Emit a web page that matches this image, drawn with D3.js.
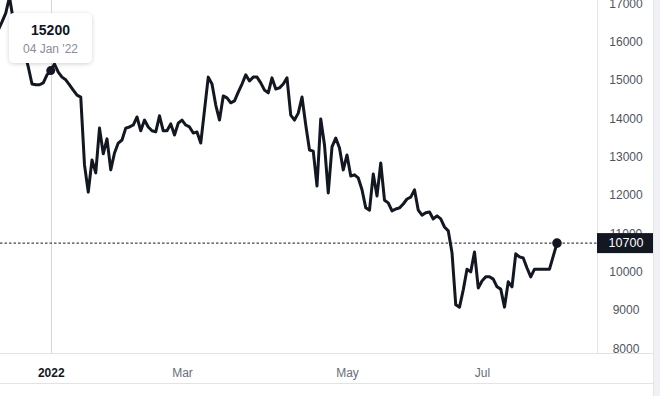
<!DOCTYPE html>
<html>
<head>
<meta charset="utf-8">
<script src="https://cdn.jsdelivr.net/npm/d3@7"></script>
<style>
  html, body { margin: 0; padding: 0; background: #ffffff; }
  svg { display: block; font-family: "Liberation Sans", Arial, sans-serif; }
</style>
</head>
<body>
<svg id="chart" width="660" height="396"></svg>
<script>
// ---- data (one value per trading bar) ----
const prices = [
  16260, 16470, 16700, 17120, 16520, 16050, 16180, 15690, 15300, 14850,
  14830, 14830, 14880, 15090, 15200, 15370, 15160, 15030, 14960, 14830,
  14690, 14560, 14510, 12740, 12030, 12870, 12530, 13700, 13030, 13420,
  12610, 13050, 13310, 13390, 13700, 13730, 13780, 13990, 13630, 13910,
  13730, 13630, 13600, 14020, 13630, 13630, 13810, 13520, 13830, 13910,
  13780, 13730, 13570, 13600, 13310, 14170, 15030, 14850, 14300, 13910,
  14540, 14490, 14360, 14410, 14640, 14850, 15090, 14930, 15030, 15030,
  14880, 14690, 14620, 15010, 14720, 14750, 14850, 15010, 14040, 13910,
  14090, 14510, 13780, 13130, 13100, 12190, 13940, 13260, 12010, 13210,
  13440, 13180, 12610, 13000, 12450, 12480, 12400, 12090, 11620, 11560,
  12500, 11930, 12790, 11820, 11750, 11540, 11590, 11620, 11720, 11850,
  11900, 12090, 11560, 11430, 11490, 11510, 11330, 11410, 11330, 11120,
  11020, 10450, 9090, 9030, 9480, 10020, 9950, 10470, 9530, 9710,
  9820, 9820, 9760, 9560, 9500, 9030, 9690, 9560, 10420, 10340,
  10310, 10050, 9820, 10020, 10020, 10020, 10020, 10020, 10360, 10700
];
const xTickBars = [14, 49, 93, 129];
const xTickLabels = ["2022", "Mar", "May", "Jul"];
const yTicks = [8000, 9000, 10000, 11000, 12000, 13000, 14000, 15000, 16000, 17000];
const hoverBar = 14;
const hoverDate = "04 Jan '22";

// ---- layout ----
const W = 660, H = 396;
const plotRight = 597, plotBottom = 353, axisBottomLine = 383, stripX = 653;
const dark = "#131722";

const svg = d3.select("#chart");

const x = d3.scaleLinear().domain([0, prices.length - 1]).range([-1.75, 557]);
const y = d3.scaleLinear().domain([8000, 17000]).range([346.6, 1.6]);

const defs = svg.append("defs");
defs.append("clipPath").attr("id", "plotClip")
  .append("rect").attr("x", 0).attr("y", 0).attr("width", plotRight).attr("height", plotBottom);
const f = defs.append("filter").attr("id", "shadow").attr("x", "-20%").attr("y", "-20%")
  .attr("width", "140%").attr("height", "160%");
f.append("feDropShadow").attr("dx", 0).attr("dy", 1).attr("stdDeviation", 2)
  .attr("flood-color", "#000").attr("flood-opacity", 0.18);

// frame lines
svg.append("line").attr("x1", plotRight + 0.5).attr("x2", plotRight + 0.5)
  .attr("y1", 0).attr("y2", plotBottom).attr("stroke", "#e0e3eb");
svg.append("line").attr("x1", 0).attr("x2", stripX)
  .attr("y1", plotBottom + 0.5).attr("y2", plotBottom + 0.5).attr("stroke", "#e0e3eb");
svg.append("line").attr("x1", 0).attr("x2", stripX)
  .attr("y1", axisBottomLine + 0.5).attr("y2", axisBottomLine + 0.5).attr("stroke", "#e0e3eb");
svg.append("rect").attr("x", stripX).attr("y", 0).attr("width", W - stripX).attr("height", H)
  .attr("fill", "#f0f1f4");
svg.append("line").attr("x1", stripX + 0.5).attr("x2", stripX + 0.5)
  .attr("y1", 0).attr("y2", H).attr("stroke", "#e3e5ea");

const plot = svg.append("g").attr("clip-path", "url(#plotClip)");

// crosshair vertical line
plot.append("line")
  .attr("x1", Math.round(x(hoverBar)) + 0.5).attr("x2", Math.round(x(hoverBar)) + 0.5)
  .attr("y1", 0).attr("y2", plotBottom)
  .attr("stroke", "#d6d8de").attr("stroke-width", 1);

// last price dotted line
const last = prices[prices.length - 1];
plot.append("line")
  .attr("x1", 0).attr("x2", plotRight)
  .attr("y1", y(last)).attr("y2", y(last))
  .attr("stroke", dark).attr("stroke-width", 1).attr("stroke-dasharray", "2.5,2");

// price line
const line = d3.line().x((d, i) => x(i)).y(d => y(d)).curve(d3.curveLinear);
plot.append("path").datum(prices)
  .attr("d", line)
  .attr("fill", "none").attr("stroke", dark).attr("stroke-width", 3)
  .attr("stroke-linejoin", "round").attr("stroke-linecap", "round");

// markers
plot.append("circle").attr("cx", x(hoverBar)).attr("cy", y(prices[hoverBar])).attr("r", 4.5).attr("fill", dark);
plot.append("circle").attr("cx", x(prices.length - 1)).attr("cy", y(last)).attr("r", 4.8).attr("fill", dark);

// y axis (right)
const yAxis = svg.append("g").attr("transform", `translate(${plotRight},0)`)
  .call(d3.axisRight(y).tickValues(yTicks).tickSize(0).tickFormat(d3.format("d")));
yAxis.select(".domain").remove();
yAxis.selectAll("text")
  .attr("x", 29).attr("y", 1.8).attr("text-anchor", "middle")
  .attr("fill", "#50535e").attr("font-size", 12)
  .attr("font-family", "'Liberation Sans', Arial, sans-serif");

// current price label
const lblG = svg.append("g").attr("transform", `translate(${plotRight},${y(last)})`);
lblG.append("rect").attr("x", 0).attr("y", -10).attr("width", stripX - plotRight).attr("height", 20)
  .attr("fill", dark);
lblG.append("text").attr("x", 29).attr("y", 0).attr("dy", "0.35em")
  .attr("text-anchor", "middle").attr("fill", "#ffffff").attr("font-size", 12.5)
  .text(d3.format("d")(Math.round(last / 100) * 100));

// x axis (bottom)
const xAxis = svg.append("g").attr("transform", `translate(0,${plotBottom})`)
  .call(d3.axisBottom(x).tickValues(xTickBars).tickSize(0)
    .tickFormat((d, i) => xTickLabels[i]));
xAxis.select(".domain").remove();
xAxis.selectAll("text")
  .attr("y", 20).attr("dy", "0.35em")
  .attr("font-size", 12)
  .attr("font-family", "'Liberation Sans', Arial, sans-serif")
  .attr("fill", (d, i) => i === 0 ? dark : "#6a6d78")
  .attr("font-weight", (d, i) => i === 0 ? "bold" : "normal");

// tooltip
const tip = svg.append("g");
tip.append("rect").attr("x", 9).attr("y", 13).attr("width", 83).attr("height", 50)
  .attr("rx", 5).attr("fill", "#ffffff").attr("filter", "url(#shadow)");
tip.append("text").attr("x", 50.5).attr("y", 30).attr("dy", "0.35em")
  .attr("text-anchor", "middle").attr("font-size", 14).attr("font-weight", "bold")
  .attr("fill", dark).text(d3.format("d")(prices[hoverBar]));
tip.append("text").attr("x", 50.5).attr("y", 49).attr("dy", "0.35em")
  .attr("text-anchor", "middle").attr("font-size", 12)
  .attr("fill", "#8a8d96").text(hoverDate);
</script>
</body>
</html>
